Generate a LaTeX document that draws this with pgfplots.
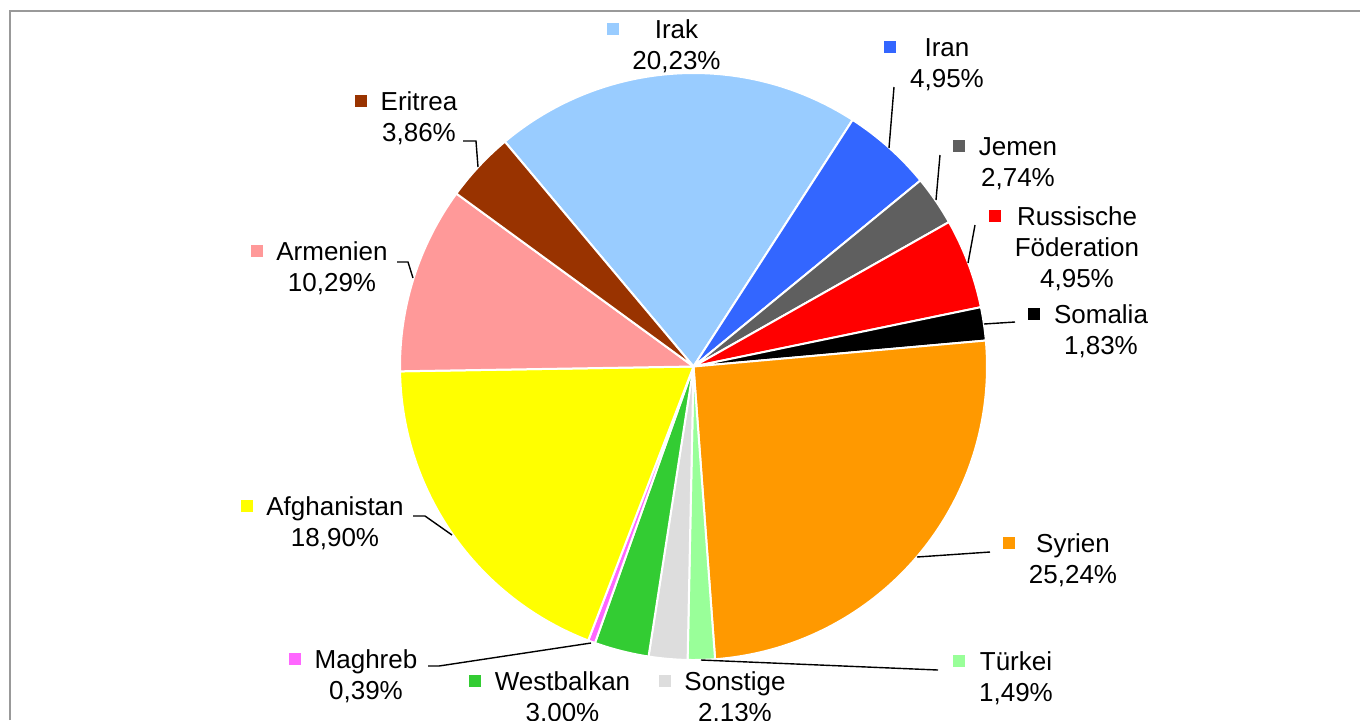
\documentclass[border=0pt]{standalone}
\usepackage{fontspec}
\setmainfont{Liberation Sans}
\usepackage{pgfplots}
\usepackage{pgfplotstable}
\pgfplotsset{compat=1.18}

% slice colours, in the order of the table rows
\definecolor{slice0}{HTML}{99CCFF}
\definecolor{slice1}{HTML}{3366FF}
\definecolor{slice2}{HTML}{5F5F5F}
\definecolor{slice3}{HTML}{FF0000}
\definecolor{slice4}{HTML}{000000}
\definecolor{slice5}{HTML}{FF9900}
\definecolor{slice6}{HTML}{99FF99}
\definecolor{slice7}{HTML}{DDDDDD}
\definecolor{slice8}{HTML}{33CC33}
\definecolor{slice9}{HTML}{FF66FF}
\definecolor{slice10}{HTML}{FFFF00}
\definecolor{slice11}{HTML}{FF9999}
\definecolor{slice12}{HTML}{993300}
\definecolor{framegray}{HTML}{999999}

% share in percent; cx, by = label centre and first baseline (pixels); nl = lines
\pgfplotstableread[col sep=comma]{
name,value,cx,by,nl
Irak,20.23,676.5,38,2
Iran,4.95,947,56,2
Jemen,2.74,1018,155,2
{Russische\\Föderation},4.95,1077,225,3
Somalia,1.83,1101,323,2
Syrien,25.24,1073,552,2
Türkei,1.49,1016,670,2
Sonstige,2.13,735,690,2
Westbalkan,3.00,562.5,690,2
Maghreb,0.39,366,668,2
Afghanistan,18.90,335,515,2
Armenien,10.29,332,260,2
Eritrea,3.86,419,110,2
}\piedata

\begin{document}
\begin{tikzpicture}
\begin{axis}[
  x=0.5pt, y=0.5pt, y dir=reverse,
  xmin=0, xmax=1360, ymin=0, ymax=720,
  hide axis, scale only axis, clip=false,
  /pgf/number format/assume math mode=true,
]
% frame
\addplot[framegray, line width=1pt, no marks] coordinates {(9.5,720) (9.5,10.5) (1360,10.5)};

\pgfplotsextra{
  \pgfplotstablegetrowsof{\piedata}
  \pgfmathtruncatemacro\nrows{\pgfplotsretval-1}
  \xdef\angA{130}
  \foreach \i in {0,...,\nrows}{
    \pgfplotstablegetelem{\i}{value}\of\piedata \let\v\pgfplotsretval
    \pgfmathsetmacro\angB{\angA-3.6*\v}
    \fill[slice\i, draw=white, line width=1pt, line join=round]
      (axis cs:693.5,366.5) -- ++(\angA:146.75pt)
      arc[start angle=\angA, end angle=\angB, radius=146.75pt] -- cycle;
    \xdef\angA{\angB}
  }
  \foreach \i in {0,...,\nrows}{
    \pgfplotstablegetelem{\i}{value}\of\piedata \let\v\pgfplotsretval
    \pgfplotstablegetelem{\i}{name}\of\piedata \let\n\pgfplotsretval
    \pgfplotstablegetelem{\i}{cx}\of\piedata \let\cx\pgfplotsretval
    \pgfplotstablegetelem{\i}{by}\of\piedata \let\by\pgfplotsretval
    \pgfplotstablegetelem{\i}{nl}\of\piedata \let\nl\pgfplotsretval
    % the node's base is the baseline of its last line
    \node[anchor=base, align=center, inner sep=0pt,
          font=\fontsize{13pt}{15.5pt}\selectfont] (L) at (axis cs:\cx,\by+31*\nl-31)
      {\n\\\pgfmathprintnumber[fixed, fixed zerofill, precision=2, use comma]{\v}\%};
    \coordinate (Y) at (axis cs:\cx,\by-9);
    \node[fill=slice\i, minimum size=6pt, inner sep=0pt, anchor=east, xshift=-6.5pt]
      at (L.west |- Y) {};
  }
}

% leader lines
\addplot[black, line width=0.7pt, no marks] coordinates {(889,148) (894,87)};
\addplot[black, line width=0.7pt, no marks] coordinates {(936,200) (940,155)};
\addplot[black, line width=0.7pt, no marks] coordinates {(968,263) (975,225)};
\addplot[black, line width=0.7pt, no marks] coordinates {(984,324) (1015,322)};
\addplot[black, line width=0.7pt, no marks] coordinates {(917,557) (990,552)};
\addplot[black, line width=0.7pt, no marks] coordinates {(701,660) (938,670)};
\addplot[black, line width=0.7pt, no marks] coordinates {(591,643) (439,666) (428,666)};
\addplot[black, line width=0.7pt, no marks] coordinates {(452,535) (425,516) (413,516)};
\addplot[black, line width=0.7pt, no marks] coordinates {(413,278) (408,262) (397,262)};
\addplot[black, line width=0.7pt, no marks] coordinates {(478,167) (476,141) (463,141)};
\end{axis}
\pgfresetboundingbox
\useasboundingbox (current axis.south west) rectangle (current axis.north east);
\end{tikzpicture}
\end{document}
